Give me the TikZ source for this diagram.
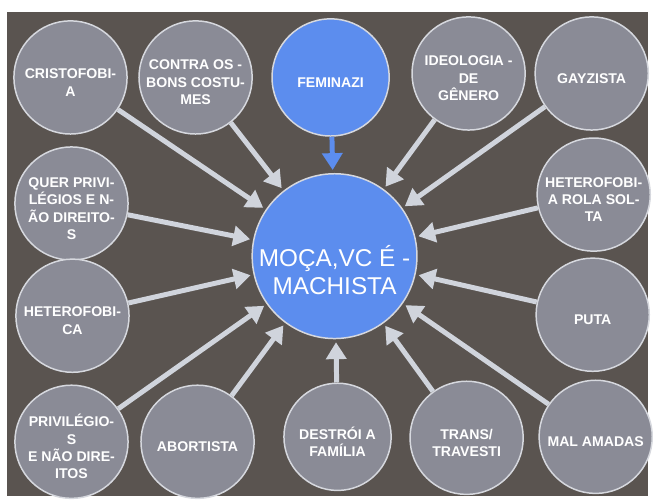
\documentclass[tikz,border=0pt]{standalone}
\usepackage{fontspec}
\setmainfont{Liberation Sans}
\usetikzlibrary{arrows.meta}

\definecolor{bgdark}{RGB}{90,84,80}
\definecolor{topicgray}{RGB}{138,139,150}
\definecolor{ringgray}{RGB}{214,216,222}
\definecolor{hubblue}{RGB}{92,141,238}
\definecolor{arrowgray}{RGB}{208,212,220}

\begin{document}
\begin{tikzpicture}[
    x=1pt, y=-1pt,
    topic/.style={
        circle,
        minimum size=114pt,
        inner sep=0pt,
        draw=ringgray,
        fill=topicgray,
        line width=1.5pt
    },
    caption/.style={
        align=center,
        text=white,
        yshift=-5pt,
        font=\bfseries\fontsize{14.2}{17.5}\selectfont
    },
    hub/.style={
        topic,
        minimum size=166pt,
        fill=hubblue
    },
    hubcaption/.style={
        caption,
        yshift=-9pt,
        font=\fontsize{24.5}{29}\selectfont
    },
    link/.style={
        -{Triangle[length=17pt,width=20pt]},
        draw=arrowgray,
        line width=5pt,
        shorten >=3pt
    }
]

    % page and backdrop
    \fill [white] (0,0) rectangle (653,500);
    \fill [bgdark] (7,12) rectangle (653,500);

    \node (moca) [hub, label={[hubcaption]center:{MOÇA,VC É -\\MACHISTA}}] at (337,258) {};

    % top row
    \node (cristo) [topic, label={[caption]center:{CRISTOFOBI-\\A}}] at (71,78) {};
    \node (contra) [topic, label={[caption]center:{CONTRA OS -\\BONS COSTU-\\MES}}] at (197,78) {};
    \node (femi) [topic, fill=hubblue, minimum size=118pt, label={[caption]center:{FEMINAZI}}] at (333,78) {};
    \node (ideo) [topic, label={[caption]center:{IDEOLOGIA -\\DE\\GÊNERO}}] at (472,74) {};
    \node (gay) [topic, label={[caption]center:{GAYZISTA}}] at (596,74) {};

    % left column
    \node (quer) [topic, label={[caption]center:{QUER PRIVI-\\LÉGIOS E N-\\ÃO DIREITO-\\S}}] at (72,205) {};
    \node (hetfob) [topic, label={[caption]center:{HETEROFOBI-\\CA}}] at (73,318) {};

    % right column
    \node (hetrola) [topic, label={[caption]center:{HETEROFOBI-\\A ROLA SOL-\\TA}}] at (598,196) {};
    \node (puta) [topic, label={[caption]center:{PUTA}}] at (597,317) {};

    % bottom row
    \node (privil) [topic, label={[caption]center:{PRIVILÉGIO-\\S\\E NÃO DIRE-\\ITOS}}] at (72,445) {};
    \node (abort) [topic, label={[caption]center:{ABORTISTA}}] at (199,445) {};
    \node (destroi) [topic, minimum size=108pt, label={[caption]center:{DESTRÓI A\\FAMÍLIA}}] at (340,440) {};
    \node (trans) [topic, label={[caption]center:{TRANS/\\TRAVESTI}}] at (470,441) {};
    \node (malam) [topic, label={[caption]center:{MAL AMADAS}}] at (600,440) {};

    \draw [link, draw=hubblue] (femi) -- (moca);
    \draw [link] (cristo) -- (moca);
    \draw [link] (contra) -- (moca);
    \draw [link] (ideo) -- (moca);
    \draw [link] (gay) -- (moca);
    \draw [link] (quer) -- (moca);
    \draw [link] (hetfob) -- (moca);
    \draw [link] (hetrola) -- (moca);
    \draw [link] (puta) -- (moca);
    \draw [link] (privil) -- (moca);
    \draw [link] (abort) -- (moca);
    \draw [link] (destroi) -- (moca);
    \draw [link] (trans) -- (moca);
    \draw [link] (malam) -- (moca);

\end{tikzpicture}
\end{document}
